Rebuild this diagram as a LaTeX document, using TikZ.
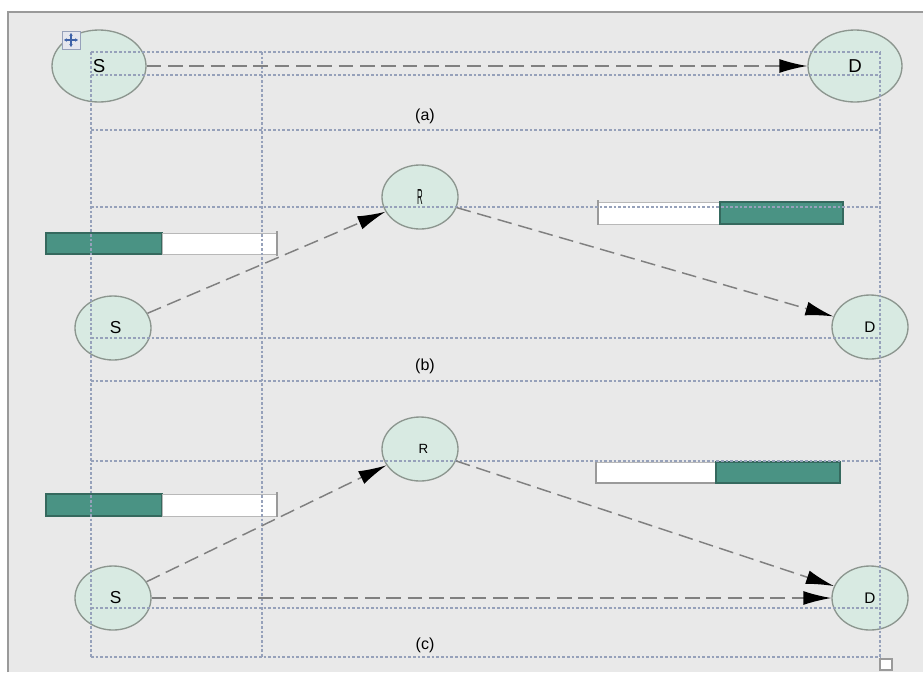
\documentclass[tikz,border=0pt]{standalone}
\usepackage{fontspec}
\setmainfont{Liberation Sans}
\usetikzlibrary{shapes.geometric,arrows.meta}
\definecolor{bgframe}{HTML}{E9E9E9}
\definecolor{framegray}{HTML}{9A9A9A}
\definecolor{gridblue}{HTML}{96A1BA}
\definecolor{nodefill}{HTML}{D8EAE2}
\definecolor{nodeline}{HTML}{8C968F}
\definecolor{barteal}{HTML}{4A9384}
\definecolor{barline}{HTML}{35695E}
\definecolor{arrowgray}{HTML}{808080}
\definecolor{iconblue}{HTML}{3F63A8}
\begin{document}
\begin{tikzpicture}[x=0.75pt,y=-0.75pt,
  grid/.style={gridblue, line width=0.9pt, dash pattern=on 2pt off 1.5pt},
  host/.style={ellipse, draw=nodeline, fill=nodefill, line width=1pt, inner sep=0pt},
  bighost/.style={host, minimum width=70.5pt, minimum height=54pt, font=\fontsize{14}{16}\selectfont},
  smallhost/.style={host, minimum width=57pt, minimum height=48pt, font=\fontsize{13}{15}\selectfont},
  arr/.style={arrowgray, line width=1.1pt, dash pattern=on 11pt off 5pt, -{Latex[length=21pt,width=10.5pt,color=black]}},
  captext/.style={font=\fontsize{12}{14}\selectfont},
  tealbar/.style={fill=barteal, draw=barline, line width=0.8pt},
  whitebar/.style={fill=white, draw=framegray!70, line width=0.7pt},
  barshadow/.style={framegray, line width=1.6pt}
]
\useasboundingbox (0,0) rectangle (923,672);
\fill[white] (0,0) rectangle (923,672);
% frame
\fill[bgframe] (8,12) rectangle (923,672);
\draw[framegray, line width=1.5pt] (8,672) -- (8,12) -- (923,12);

% bars (b)
\draw[tealbar] (46,233) rectangle (162,254);
\draw[whitebar] (162,233) rectangle (277,254);
\draw[barshadow] (277,231) -- (277,256);
\draw[whitebar] (598,202) rectangle (720,224);
\draw[barshadow] (598,200) -- (598,225);
\draw[tealbar] (720,202) rectangle (843,224);
% bars (c)
\draw[tealbar] (46,494) rectangle (162,516);
\draw[whitebar] (162,494) rectangle (277,516);
\draw[barshadow] (277,492) -- (277,517);
\draw[whitebar] (596,462) rectangle (716,483);
\draw[framegray, line width=1pt] (596,462) -- (596,483) -- (716,483);
\draw[tealbar] (716,462) rectangle (840,483);

% nodes (a)
\node[bighost] (Sa) at (99,66) {S};
\node[bighost] (Da) at (855,66) {D};
% nodes (b)
\node[smallhost] (Rb) at (420,197) {\scalebox{0.45}[1.25]{R}};
\node[smallhost] (Sb) at (113,328) {\hspace{4pt}S};
\node[smallhost, font=\fontsize{11.5}{13}\selectfont] (Db) at (870,327) {D};
% nodes (c)
\node[smallhost, font=\fontsize{10}{12}\selectfont] (Rc) at (420,449) {\hspace{5pt}R};
\node[smallhost] (Sc) at (113,598) {\hspace{4pt}S};
\node[smallhost, font=\fontsize{11.5}{13}\selectfont] (Dc) at (870,598) {D};

% table grid
\foreach \yy in {52,75,130,207,338,381,461,608,657}
  \draw[grid] (91,\yy) -- (880,\yy);
\foreach \xx in {91,262,880}
  \draw[grid] (\xx,52) -- (\xx,657);

% captions
\node[captext] (capa) at (425,116) {(a)};
\node[captext] (capb) at (425,366) {(b)};
\node[captext] (capc) at (425,645) {(c)};

% connectors
\draw[arr] (Sa.east) -- (Da.west);
\draw[arr] (Sb) -- (Rb);
\draw[arr] (Rb) -- (Db);
\draw[arr] (Sc) -- (Rc);
\draw[arr] (Rc) -- (Dc);
\draw[arr] (Sc.east) -- (Dc.west);

% move handle icon
\draw[fill=gridblue!25, draw=gridblue, line width=0.6pt] (62,31) rectangle (80,49);
\draw[iconblue, line width=0.8pt, {Stealth[length=2.2pt,width=2.6pt]}-{Stealth[length=2.2pt,width=2.6pt]}] (64,40) -- (78,40);
\draw[iconblue, line width=0.8pt, {Stealth[length=2.2pt,width=2.6pt]}-{Stealth[length=2.2pt,width=2.6pt]}] (71,33) -- (71,47);
% resize handle
\draw[fill=white, draw=framegray, line width=0.8pt] (880,659) rectangle (892,670);
\end{tikzpicture}
\end{document}
